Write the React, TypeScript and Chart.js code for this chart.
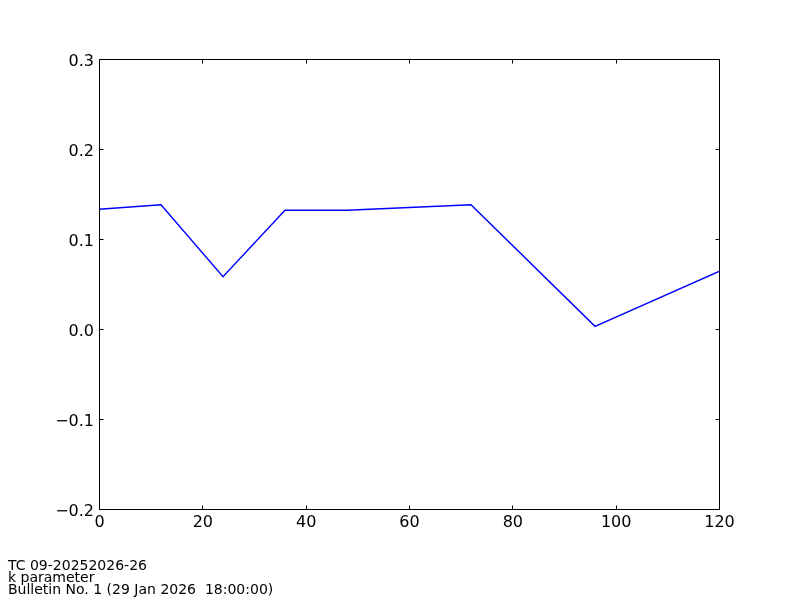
import React, { useEffect, useRef } from "react";
import { Chart, registerables } from "chart.js";

Chart.register(...registerables);

const hours = [0, 12, 24, 36, 48, 72, 96, 120];
const kValues = [0.133, 0.138, 0.058, 0.132, 0.132, 0.138, 0.003, 0.064];
const footerLines = [
  "TC 09-20252026-26",
  "k parameter",
  "Bulletin No. 1 (29 Jan 2026  18:00:00)",
];

const FONT = "'DejaVu Sans', sans-serif";

const fmtY = (v: number) => v.toFixed(1).replace("-", "\u2212");

const framePlugin = {
  id: "frame",
  afterDraw(chart: any) {
    const { ctx, chartArea: a, scales } = chart;
    const x = scales.x;
    const y = scales.y;
    ctx.save();
    ctx.strokeStyle = "#000";
    ctx.lineWidth = 1;
    const L = Math.round(a.left) + 0.5;
    const R = Math.round(a.right) + 0.5;
    const T = Math.round(a.top) + 0.5;
    const B = Math.round(a.bottom) + 0.5;
    ctx.strokeRect(L, T, R - L, B - T);
    const tl = 4;
    ctx.beginPath();
    x.ticks.forEach((t: any) => {
      const px = Math.round(x.getPixelForValue(t.value)) + 0.5;
      ctx.moveTo(px, B);
      ctx.lineTo(px, B - tl);
      ctx.moveTo(px, T);
      ctx.lineTo(px, T + tl);
    });
    y.ticks.forEach((t: any) => {
      const py = Math.round(y.getPixelForValue(t.value)) + 0.5;
      ctx.moveTo(L, py);
      ctx.lineTo(L + tl, py);
      ctx.moveTo(R, py);
      ctx.lineTo(R - tl, py);
    });
    ctx.stroke();

    ctx.fillStyle = "#000";
    ctx.font = `16px ${FONT}`;
    ctx.textBaseline = "alphabetic";
    ctx.textAlign = "right";
    y.ticks.forEach((t: any) => {
      const py = y.getPixelForValue(t.value);
      ctx.fillText(fmtY(t.value), L - 5.5, py + 6.5);
    });
    ctx.textAlign = "center";
    x.ticks.forEach((t: any) => {
      const px = x.getPixelForValue(t.value);
      ctx.fillText(String(t.value), px + 0.5, B + 17.5);
    });

    ctx.font = `14px ${FONT}`;
    ctx.textAlign = "left";
    footerLines.forEach((line, i) => {
      ctx.fillText(line, 8, 570 + i * 12);
    });
    ctx.restore();
  },
};

export default function App() {
  const ref = useRef<HTMLCanvasElement>(null);
  useEffect(() => {
    const chart = new Chart(ref.current as HTMLCanvasElement, {
      type: "line",
      data: {
        labels: hours,
        datasets: [
          {
            data: hours.map((h, i) => ({ x: h, y: kValues[i] })),
            borderColor: "#0000ff",
            borderWidth: 1.4,
            pointRadius: 0,
            fill: false,
            tension: 0,
          },
        ],
      },
      options: {
        animation: false,
        responsive: false,
        maintainAspectRatio: false,
        layout: { padding: { left: 0, top: 59, right: 81, bottom: 0 } },
        plugins: { legend: { display: false }, tooltip: { enabled: false } },
        scales: {
          x: {
            type: "linear",
            min: 0,
            max: 120,
            grid: { display: false, drawTicks: false },
            border: { display: false },
            ticks: { stepSize: 20, display: false },
            afterFit: (s: any) => {
              s.height = 91;
            },
          },
          y: {
            min: -0.2,
            max: 0.3,
            grid: { display: false, drawTicks: false },
            border: { display: false },
            ticks: { stepSize: 0.1, display: false },
            afterFit: (s: any) => {
              s.width = 99;
            },
          },
        },
      },
      plugins: [framePlugin],
    });
    return () => chart.destroy();
  }, []);
  return (
    <div style={{ position: "fixed", left: 0, top: 0, width: 800, height: 600, background: "#fff" }}>
      <canvas ref={ref} width={800} height={600} />
    </div>
  );
}
